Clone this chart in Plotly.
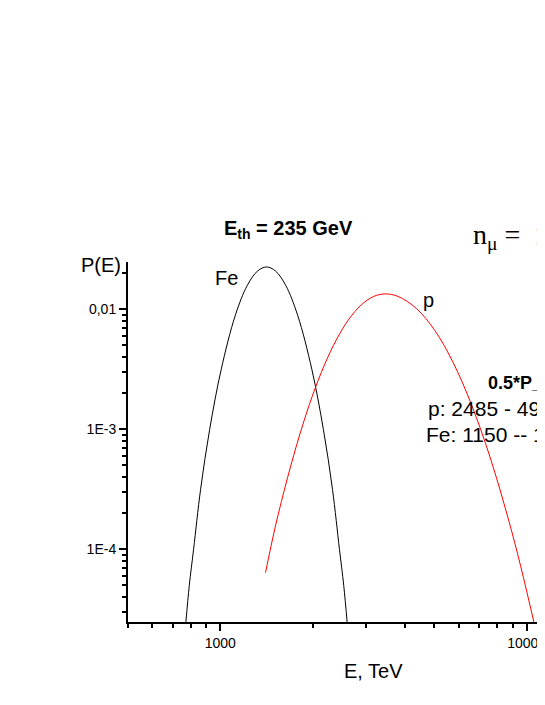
import plotly.graph_objects as go

# ---- data ----
fe_E = [772.7, 792.5, 818.5, 862.8, 923.7, 1007.4, 1120, 1226, 1325, 1416, 1513, 1635, 1789, 1990, 2170, 2324, 2449, 2529, 2594]
fe_P = [2.48e-5, 5.0e-5, 1.0e-4, 3.16e-4, 1.0e-3, 3.16e-3, 8.91e-3, 0.01585, 0.02089, 0.02252, 0.02089, 0.01585,
        8.91e-3, 3.16e-3, 1.0e-3, 3.16e-4, 1.0e-4, 5.0e-5, 2.48e-5]

p_E = [1405, 1514, 1660, 1820, 1995, 2188, 2399, 2630, 2884, 3162, 3451, 3802, 4365, 5012, 5754, 6607, 7586,
       8710, 9550, 10715]
p_P = [6.39e-5, 1.56e-4, 3.99e-4, 9.14e-4, 1.875e-3, 3.44e-3, 5.64e-3, 8.28e-3, 0.01087, 0.01277, 0.01343,
       0.0128, 0.01016, 6.67e-3, 3.6e-3, 1.6e-3, 5.9e-4, 1.79e-4, 7.28e-5, 2.09e-5]

x_major = [1000, 10000]
x_major_text = ["1000", "10000"]
x_minor = [500, 600, 700, 800, 900, 2000, 3000, 4000, 5000, 6000, 7000, 8000, 9000]
y_major = [1e-4, 1e-3, 1e-2]
y_major_text = ["1E-4", "1E-3", "0,01"]
y_minor = [3e-5, 4e-5, 5e-5, 6e-5, 7e-5, 8e-5, 9e-5,
           2e-4, 3e-4, 4e-4, 5e-4, 6e-4, 7e-4, 8e-4, 9e-4,
           2e-3, 3e-3, 4e-3, 5e-3, 6e-3, 7e-3, 8e-3, 9e-3, 2e-2]

# page body has an 8px margin: shift the figure up/left by 8px
OFF = 8
W, H = 545 - OFF, 685
L, T = 128 - OFF, 262 - OFF
PH = 360
B = H - T - PH
R = 0
PW = W - L - R

def fx(px):
    return (px - OFF - L) / PW

def fy(py):
    return (H - B - (py - OFF)) / PH

SANS = "Liberation Sans, Arial, sans-serif"

fig = go.Figure()
fig.add_trace(go.Scatter(x=fe_E, y=fe_P, mode="lines", line=dict(color="black", width=1, shape="spline"),
                         showlegend=False))
fig.add_trace(go.Scatter(x=p_E, y=p_P, mode="lines", line=dict(color="#ff0000", width=1, shape="spline"),
                         showlegend=False))

axis_common = dict(showgrid=False, zeroline=False, showline=True, linecolor="black", linewidth=2,
                   ticks="outside", tickcolor="black", tickwidth=1.5, ticklen=7,
                   ticklabeloverflow="allow",
                   tickfont=dict(family=SANS, size=14, color="black"))

fig.update_xaxes(type="log", range=[2.699, 4.0597], tickmode="array", tickvals=x_major, ticktext=x_major_text,
                 minor=dict(tickmode="array", tickvals=x_minor, ticks="outside", ticklen=4, tickwidth=1.5,
                            tickcolor="black", showgrid=False),
                 **axis_common)
fig.update_yaxes(type="log", range=[-4.606, -1.606], tickmode="array", tickvals=y_major, ticktext=y_major_text,
                 minor=dict(tickmode="array", tickvals=y_minor, ticks="outside", ticklen=4, tickwidth=1.5,
                            tickcolor="black", showgrid=False),
                 **axis_common)

def ann(text, px, py, size, xanchor="left", bold=False, family=SANS):
    if bold:
        text = "<b>" + text + "</b>"
    fig.add_annotation(text=text, xref="paper", yref="paper", x=fx(px), y=fy(py - 0.32 * size),
                       xanchor=xanchor, yanchor="middle", showarrow=False,
                       font=dict(family=family, size=size, color="black"))

ann("E<sub>th</sub> = 235 GeV", 288, 236, 20, xanchor="center", bold=True)
ann("n<sub>μ</sub> =  1", 471, 245, 28, family="Liberation Serif, Times New Roman, serif")
ann("P(E)", 79, 271, 20)
ann("Fe", 213, 284, 20)
ann("p", 421, 306.7, 20)
ann("0.5*P_max", 486, 388.3, 18, bold=True)
ann("p: 2485 - 4980", 426, 415, 21)
ann("Fe: 1150 -- 1750", 424, 441.7, 21)
ann("E, TeV", 373, 677, 20, xanchor="center")

fig.update_layout(width=W, height=H, margin=dict(l=L, r=R, t=T, b=B, pad=0),
                  paper_bgcolor="white", plot_bgcolor="white", showlegend=False)

fig.write_html("out.html")
